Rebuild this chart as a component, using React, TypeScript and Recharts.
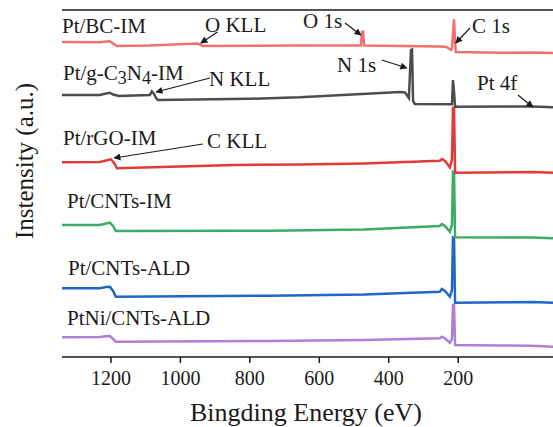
import React from 'react';
import { LineChart, Line, XAxis, YAxis, ReferenceLine } from 'recharts';

// ---- Data (binding energy in eV, intensity in a.u.; each spectrum stacked with its own offset) ----
const xTicks = [1200, 1000, 800, 600, 400, 200];

const bcEnergy = [1341, 1232, 1214, 1203, 1194, 1183, 1088, 950, 935, 656, 480, 477, 474, 471, 253, 233, 221, 218, 212, 209, 207, 80, -12, -73];
const bcIntensity = [315, 314.7, 315.5, 315.8, 313.5, 311, 311.5, 313.5, 311, 311.5, 311.5, 325, 325.3, 311.5, 310.5, 310, 307, 308.5, 337.7, 315, 305, 304.3, 304.5, 304];

const cnEnergy = [1341, 1232, 1214, 1203, 1194, 1177, 1088, 1082, 1076, 1070, 1065, 800, 656, 368, 353, 348, 342, 336, 333, 330, 325, 218, 215, 212, 209, -12, -73];
const cnIntensity = [262, 262, 263.5, 264.3, 262.5, 261, 262, 265.5, 263, 259, 257, 258.2, 259.7, 265, 264.5, 262, 259, 307, 307.5, 256, 253, 252.7, 277, 265, 250.3, 250.5, 249.7];

const rgoEnergy = [1341, 1232, 1214, 1200, 1191, 1183, 843, 656, 471, 253, 247, 238, 224, 218, 215, 212, 209, -12, -73];
const rgoIntensity = [194.7, 195, 196.5, 197.7, 194, 188.7, 192, 192.5, 193.5, 196.3, 198, 196, 189.7, 197, 249, 249, 184.3, 185, 184.3];

const cntImEnergy = [1341, 1232, 1214, 1203, 1194, 1186, 742, 471, 253, 247, 238, 224, 218, 215, 212, 209, -12, -73];
const cntImIntensity = [132, 132, 133.5, 134.3, 131, 126, 126.3, 127.5, 131, 133, 131, 125.3, 132, 185.3, 185, 119.7, 119.5, 118.7];

const cntAldEnergy = [1341, 1232, 1214, 1203, 1194, 1186, 742, 471, 253, 247, 238, 224, 218, 215, 212, 209, -12, -73];
const cntAldIntensity = [68.7, 68.7, 70, 70.3, 66, 60.3, 61.3, 62.5, 65.3, 68, 66, 60.3, 67, 119.7, 119.5, 54.3, 55, 54.3];

const ptniEnergy = [1341, 1232, 1214, 1203, 1194, 1186, 742, 471, 253, 247, 238, 224, 218, 215, 212, 209, 80, -12, -73];
const ptniIntensity = [19.7, 20, 20.7, 21, 18, 15.3, 16, 17, 18.7, 20.3, 18.5, 14.3, 18, 52, 52, 12, 11.5, 11.2, 10.3];

const seriesNames = ['PtNi/CNTs-ALD', 'Pt/CNTs-ALD', 'Pt/CNTs-IM', 'Pt/rGO-IM', 'Pt/g-C3N4-IM', 'Pt/BC-IM'];

const zip = (e: number[], v: number[]) => e.map((x, i) => ({ e: x, v: v[i] }));

const seriesList = [
  { name: seriesNames[0], data: zip(ptniEnergy, ptniIntensity), color: '#b07dd8' },
  { name: seriesNames[1], data: zip(cntAldEnergy, cntAldIntensity), color: '#2166c9' },
  { name: seriesNames[2], data: zip(cntImEnergy, cntImIntensity), color: '#3dab66' },
  { name: seriesNames[3], data: zip(rgoEnergy, rgoIntensity), color: '#e23a3a' },
  { name: seriesNames[4], data: zip(cnEnergy, cnIntensity), color: '#4d4d4d' },
  { name: seriesNames[5], data: zip(bcEnergy, bcIntensity), color: '#ef7070' },
];

// Annotation arrows (data coordinates: tail -> head)
const arrows = [
  [{ x: 893, y: 325 }, { x: 941, y: 314 }],
  [{ x: 915, y: 279 }, { x: 1070, y: 265 }],
  [{ x: 935, y: 213 }, { x: 1191, y: 199 }],
  [{ x: 526, y: 334 }, { x: 480, y: 322 }],
  [{ x: 166, y: 329 }, { x: 207, y: 314 }],
  [{ x: 420, y: 297 }, { x: 348, y: 289 }],
  [{ x: 28, y: 262 }, { x: -15, y: 250 }],
];

const FONT = '"Liberation Serif", "Times New Roman", serif';
const INK = '#1a1a1a';

export default function App() {
  return (
    <div style={{ position: 'absolute', left: 0, top: 0, width: 553, height: 427, background: '#fff' }}>
      <svg width={0} height={0} style={{ position: 'absolute' }}>
        <defs>
          <marker id="arrowhead" viewBox="0 0 10 10" refX="9" refY="5" markerWidth="9" markerHeight="7" markerUnits="userSpaceOnUse" orient="auto">
            <path d="M0,0 L10,5 L0,10 z" fill={INK} />
          </marker>
        </defs>
      </svg>
      <LineChart width={553} height={427} margin={{ top: 10, right: 0, left: 62, bottom: 0 }}>
        <XAxis
          dataKey="e"
          type="number"
          domain={[-73, 1341]}
          reversed
          allowDataOverflow
          ticks={xTicks}
          height={70}
          tickSize={6}
          tickMargin={8}
          stroke={INK}
          strokeWidth={1.5}
          tick={{ fill: INK, fontSize: 20, fontFamily: FONT }}
        />
        <YAxis
          type="number"
          domain={[0, 347]}
          allowDataOverflow
          width={0}
          tick={false}
          tickLine={false}
          stroke={INK}
          strokeWidth={1.5}
        />
        <ReferenceLine y={347} stroke={INK} strokeWidth={1.5} />
        {seriesList.map((s) => (
          <Line
            key={s.name}
            data={s.data}
            dataKey="v"
            name={s.name}
            type="linear"
            stroke={s.color}
            strokeWidth={2.5}
            dot={false}
            activeDot={false}
            isAnimationActive={false}
          />
        ))}
        {arrows.map((seg, i) => (
          <ReferenceLine
            key={'arr' + i}
            segment={seg}
            stroke={INK}
            strokeWidth={1.2}
            markerEnd="url(#arrowhead)"
            ifOverflow="visible"
          />
        ))}
      </LineChart>
      <svg width={553} height={427} style={{ position: 'absolute', left: 0, top: 0, pointerEvents: 'none' }}>
        <g fontFamily={FONT} fill={INK} fontSize={21}>
          <text x={62} y={33}>Pt/BC-IM</text>
          <text x={63} y={80}>
            Pt/g-C<tspan dy={4} fontSize={18}>3</tspan>
            <tspan dy={-4}>N</tspan>
            <tspan dy={4} fontSize={18}>4</tspan>
            <tspan dy={-4}>-IM</tspan>
          </text>
          <text x={63} y={145}>Pt/rGO-IM</text>
          <text x={67} y={208}>Pt/CNTs-IM</text>
          <text x={68} y={275}>Pt/CNTs-ALD</text>
          <text x={67} y={325}>PtNi/CNTs-ALD</text>
          <text x={205} y={32}>O KLL</text>
          <text x={209} y={86}>N KLL</text>
          <text x={207} y={148}>C KLL</text>
          <text x={303} y={28}>O 1s</text>
          <text x={472} y={33}>C 1s</text>
          <text x={337} y={72}>N 1s</text>
          <text x={477} y={90}>Pt 4f</text>
        </g>
        <text x={306} y={421} textAnchor="middle" fontFamily={FONT} fontSize={26} fill={INK}>
          Bingding Energy (eV)
        </text>
        <text
          x={33}
          y={161}
          textAnchor="middle"
          fontFamily={FONT}
          fontSize={25}
          fill={INK}
          transform="rotate(-90, 33, 161)"
        >
          Instensity (a.u.)
        </text>
      </svg>
    </div>
  );
}
